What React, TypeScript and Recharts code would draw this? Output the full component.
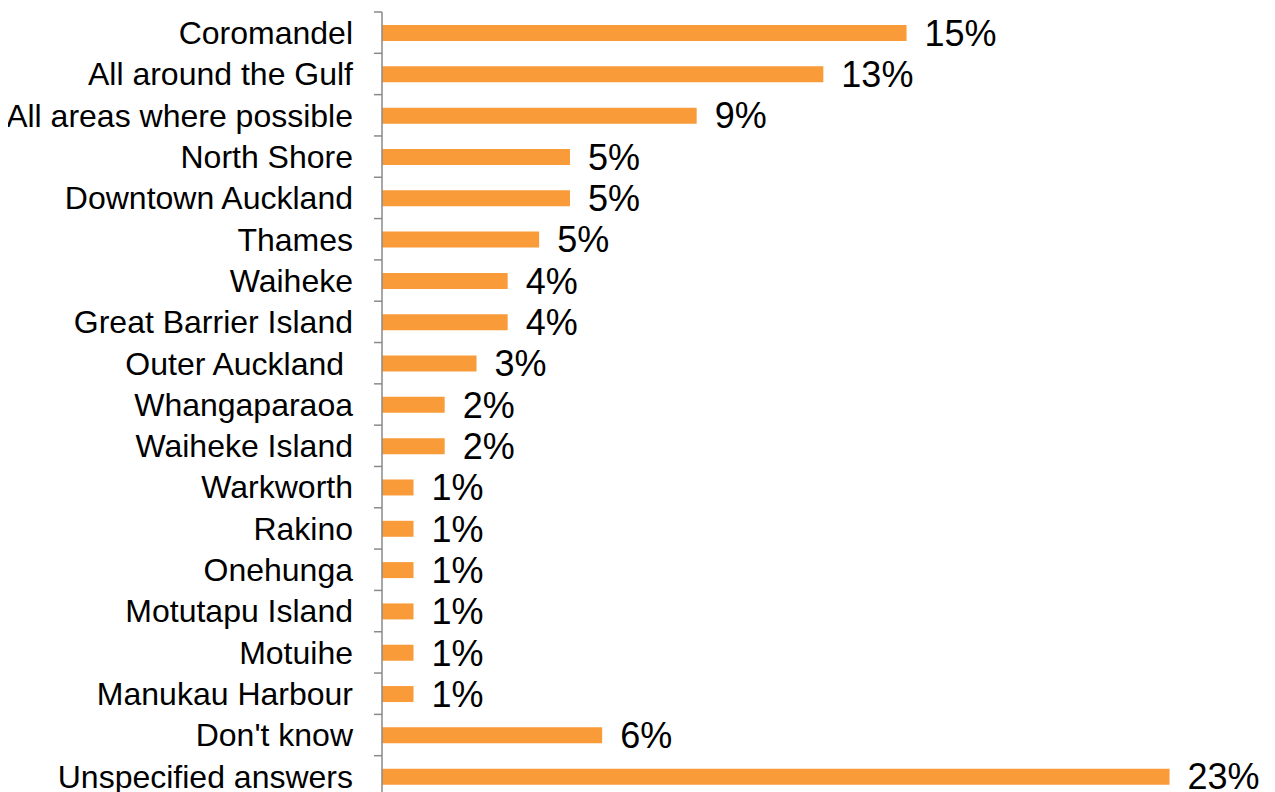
import React from "react";
import { BarChart, Bar, XAxis, YAxis, LabelList } from "recharts";

const categories: string[] = [
  "Coromandel",
  "All around the Gulf",
  "All areas where possible",
  "North Shore",
  "Downtown Auckland",
  "Thames",
  "Waiheke",
  "Great Barrier Island",
  "Outer Auckland ",
  "Whangaparaoa",
  "Waiheke Island",
  "Warkworth",
  "Rakino",
  "Onehunga",
  "Motutapu Island",
  "Motuihe",
  "Manukau Harbour",
  "Don't know",
  "Unspecified answers",
];

const values: number[] = [
  15.32, 12.89, 9.19, 5.49, 5.49, 4.59, 3.67, 3.67, 2.76, 1.83, 1.83, 0.92,
  0.92, 0.92, 0.92, 0.92, 0.92, 6.43, 23.0,
];

const data = categories.map((name, i) => ({ name, value: values[i] }));

const CHART_W = 1259;
const CHART_H = 790;
const MARGIN = { top: 4, right: 29, bottom: 1, left: 0 };
const BAND = (CHART_H - MARGIN.top - MARGIN.bottom) / categories.length;
const AXIS_COLOR = "#8a8a8a";
const FONT = "'Liberation Sans', Arial, sans-serif";

const CategoryTick = (props: any) => {
  const { x, y, payload, index } = props;
  const axisX = x + 29;
  const isLast = index === categories.length - 1;
  return (
    <g>
      <text
        x={x}
        y={y}
        dy="0.355em"
        textAnchor="end"
        fill="#000"
        fontSize={32}
        fontFamily={FONT}
        style={{ whiteSpace: "pre" }}
      >
        {payload.value}
      </text>
      <line
        x1={axisX - 8}
        x2={axisX}
        y1={y - BAND / 2}
        y2={y - BAND / 2}
        stroke={AXIS_COLOR}
        strokeWidth={1.5}
      />
      {isLast && (
        <line
          x1={axisX - 8}
          x2={axisX}
          y1={y + BAND / 2}
          y2={y + BAND / 2}
          stroke={AXIS_COLOR}
          strokeWidth={1.5}
        />
      )}
    </g>
  );
};

export default function App() {
  return (
    <div style={{ width: CHART_W, height: CHART_H }}>
      <style>{`html,body{overflow:hidden}`}</style>
      <BarChart
        width={CHART_W}
        height={CHART_H}
        data={data}
        layout="vertical"
        margin={MARGIN}
      >
        <XAxis type="number" domain={[0, 25]} hide />
        <YAxis
          type="category"
          dataKey="name"
          width={374}
          tickSize={8}
          tickMargin={21}
          tickLine={false}
          axisLine={{ stroke: AXIS_COLOR, strokeWidth: 1.5 }}
          interval={0}
          tick={(p: any) => <CategoryTick {...p} />}
        />
        <Bar
          dataKey="value"
          fill="#F99B38"
          barSize={16}
          isAnimationActive={false}
        >
          <LabelList
            dataKey="value"
            position="right"
            offset={18}
            formatter={(v: any) => `${Math.round(Number(v))}%`}
            fill="#000"
            fontSize={36}
            fontFamily={FONT}
          />
        </Bar>
      </BarChart>
    </div>
  );
}
